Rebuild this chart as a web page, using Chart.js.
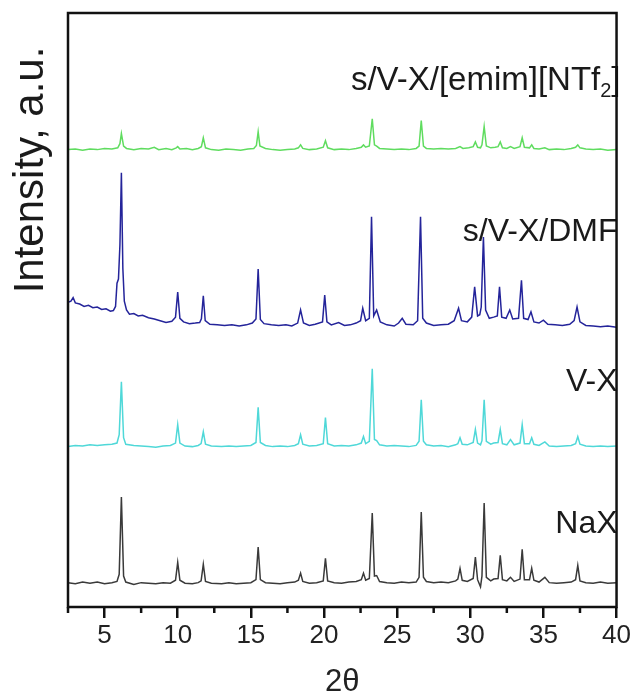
<!DOCTYPE html>
<html>
<head>
<meta charset="utf-8">
<script src="https://cdn.jsdelivr.net/npm/chart.js@4/dist/chart.umd.min.js"></script>
<style>
  html, body { margin: 0; padding: 0; background: #fff; }
  #wrap { width: 633px; height: 695px; }
</style>
</head>
<body>
<div id="wrap"><canvas id="xrd" width="633" height="695"></canvas></div>
<script>
// Powder XRD patterns, [2θ (deg), intensity (a.u.)] relative to each trace's own baseline
const naX = [[2.5,0.1],[3.0,-0.1],[3.5,0.2],[4.0,0.0],[4.5,0.2],[5.0,-0.1],[5.5,0.1],[5.85,0.3],[6.0,1.5],[6.15,14.5],[6.3,1.2],[6.45,0.2],[7.0,-0.2],[7.5,0.1],[8.0,0.0],[8.5,-0.1],[9.0,0.1],[9.5,0.0],[9.85,0.5],[10.0,3.5],[10.15,0.5],[10.5,0.0],[11.0,-0.1],[11.4,0.1],[11.6,0.4],[11.75,3.2],[11.9,0.3],[12.3,0.0],[13.0,-0.1],[13.5,0.1],[14.0,-0.1],[14.5,0.0],[15.0,0.1],[15.35,0.6],[15.5,6.1],[15.65,0.6],[16.0,0.1],[16.5,0.0],[17.0,-0.1],[17.5,0.1],[18.0,0.2],[18.25,0.5],[18.4,1.7],[18.55,0.3],[19.0,0.0],[19.5,0.1],[19.95,0.4],[20.1,4.2],[20.25,0.4],[20.7,0.1],[21.2,0.0],[21.7,0.2],[22.2,0.3],[22.55,0.6],[22.7,1.7],[22.85,0.5],[23.1,0.8],[23.3,11.8],[23.45,1.2],[23.6,1.3],[23.8,0.3],[24.3,0.1],[24.8,0.0],[25.3,0.2],[25.8,0.1],[26.3,0.2],[26.5,1.0],[26.65,12.0],[26.8,1.0],[27.0,0.3],[27.5,0.1],[28.0,0.2],[28.5,0.1],[29.0,0.4],[29.15,0.7],[29.3,2.5],[29.45,0.5],[29.8,0.3],[30.2,0.8],[30.35,4.4],[30.5,0.6],[30.7,-0.6],[30.8,1.2],[30.95,13.5],[31.1,1.0],[31.4,0.4],[31.6,0.7],[31.9,0.8],[32.05,4.7],[32.2,0.6],[32.5,0.4],[32.75,1.0],[33.0,0.3],[33.4,0.7],[33.55,5.7],[33.7,0.6],[34.05,0.6],[34.2,2.5],[34.35,0.5],[34.7,0.2],[35.1,1.0],[35.4,0.1],[35.9,0.0],[36.4,0.1],[36.9,0.2],[37.2,0.6],[37.35,3.0],[37.5,0.4],[37.9,0.1],[38.4,0.0],[38.9,0.2],[39.4,0.0],[40.0,0.1]];

const vX = [[2.5,0.0],[3.0,0.2],[3.5,0.1],[4.0,0.3],[4.5,0.2],[5.0,0.3],[5.5,0.4],[5.85,0.6],[6.0,2.0],[6.15,10.9],[6.3,1.5],[6.45,0.4],[7.0,0.2],[7.5,0.1],[8.0,0.0],[8.5,-0.1],[9.0,0.1],[9.5,0.2],[9.85,0.6],[10.0,3.7],[10.15,0.6],[10.5,0.1],[11.0,0.0],[11.4,0.2],[11.6,0.5],[11.75,2.5],[11.9,0.4],[12.3,0.1],[13.0,0.0],[13.5,0.1],[14.0,0.0],[14.5,0.1],[15.0,0.2],[15.35,0.7],[15.5,6.6],[15.65,0.7],[16.0,0.2],[16.5,0.0],[17.0,0.1],[17.5,0.0],[18.0,0.2],[18.25,0.5],[18.4,2.0],[18.55,0.4],[19.0,0.1],[19.5,0.2],[19.95,0.5],[20.1,4.9],[20.25,0.5],[20.7,0.1],[21.2,0.2],[21.7,0.1],[22.2,0.3],[22.55,0.6],[22.7,1.7],[22.85,0.5],[23.1,0.9],[23.3,13.1],[23.45,1.2],[23.6,1.0],[23.8,0.3],[24.3,0.1],[24.8,0.2],[25.3,0.1],[25.8,0.0],[26.3,0.2],[26.5,0.9],[26.65,7.9],[26.8,0.9],[27.0,0.3],[27.5,0.1],[28.0,0.2],[28.5,0.0],[29.0,0.3],[29.15,0.5],[29.3,1.5],[29.45,0.4],[29.8,0.3],[30.2,0.7],[30.35,2.9],[30.5,0.6],[30.7,0.3],[30.8,1.0],[30.95,7.9],[31.1,0.9],[31.4,0.4],[31.6,0.6],[31.9,0.7],[32.05,2.9],[32.2,0.5],[32.5,0.3],[32.75,1.2],[33.0,0.3],[33.4,0.6],[33.55,3.7],[33.7,0.5],[34.05,0.5],[34.2,1.5],[34.35,0.4],[34.7,0.2],[35.1,0.8],[35.4,0.1],[35.9,0.0],[36.4,0.1],[36.9,0.2],[37.2,0.5],[37.35,1.7],[37.5,0.4],[37.9,0.1],[38.4,0.0],[38.9,0.1],[39.4,0.0],[40.0,0.1]];

const sVXDmf = [[2.5,4.3],[2.7,4.5],[2.85,5.1],[3.0,4.2],[3.3,4.0],[3.6,3.6],[3.9,3.8],[4.2,3.4],[4.5,3.5],[4.8,3.1],[5.1,3.2],[5.4,2.8],[5.6,2.9],[5.75,3.6],[5.85,7.5],[5.95,8.2],[6.05,14.0],[6.15,26.1],[6.25,10.0],[6.35,4.5],[6.5,3.0],[6.7,2.3],[7.0,2.4],[7.3,2.0],[7.6,2.1],[8.0,1.7],[8.4,1.5],[8.8,1.2],[9.2,0.9],[9.6,1.1],[9.85,1.8],[10.0,6.0],[10.15,1.6],[10.4,1.0],[10.8,0.7],[11.2,0.8],[11.5,0.9],[11.62,1.5],[11.75,5.4],[11.88,1.2],[12.2,0.6],[12.7,0.5],[13.2,0.4],[13.7,0.5],[14.2,0.3],[14.7,0.5],[15.1,0.8],[15.35,1.5],[15.5,9.9],[15.65,1.4],[15.9,0.7],[16.4,0.5],[16.9,0.4],[17.4,0.5],[17.8,0.3],[18.2,0.8],[18.4,3.0],[18.6,0.8],[19.0,0.4],[19.4,0.6],[19.9,1.0],[20.05,5.5],[20.2,1.0],[20.5,0.5],[21.0,0.9],[21.4,0.4],[21.8,0.5],[22.2,0.8],[22.5,1.2],[22.65,3.3],[22.85,1.2],[23.1,1.6],[23.25,18.7],[23.4,2.0],[23.6,3.0],[23.85,1.0],[24.3,0.5],[24.8,0.3],[25.1,0.8],[25.35,1.6],[25.6,0.6],[26.1,0.5],[26.4,1.2],[26.6,18.7],[26.75,1.6],[27.0,0.8],[27.5,0.4],[28.0,0.5],[28.5,0.6],[28.9,1.2],[29.2,3.3],[29.4,1.2],[29.8,1.0],[30.1,1.8],[30.3,6.9],[30.5,2.0],[30.65,2.2],[30.75,3.5],[30.9,15.3],[31.05,3.0],[31.3,1.6],[31.6,1.8],[31.85,2.0],[32.0,6.9],[32.15,1.8],[32.45,1.6],[32.7,3.0],[32.9,1.5],[33.3,1.6],[33.5,8.0],[33.65,1.6],[33.95,1.4],[34.15,2.7],[34.35,1.0],[34.7,0.8],[35.0,1.3],[35.3,0.6],[35.8,0.5],[36.3,0.4],[36.8,0.6],[37.1,1.2],[37.3,3.5],[37.5,1.0],[37.9,0.4],[38.4,0.3],[38.9,0.2],[39.4,0.3],[40.0,0.1]];

const sVXEmim = [[2.5,0.0],[3.0,0.1],[3.5,-0.1],[4.0,0.1],[4.5,0.0],[5.0,0.2],[5.5,0.1],[5.9,0.3],[6.05,1.0],[6.15,2.7],[6.3,0.6],[6.5,0.2],[7.0,0.0],[7.5,0.2],[8.0,0.1],[8.4,0.4],[8.7,0.0],[9.2,0.2],[9.6,0.0],[9.9,0.3],[10.0,0.5],[10.15,0.1],[10.6,0.2],[11.0,0.0],[11.4,0.2],[11.62,0.5],[11.75,2.0],[11.9,0.3],[12.3,0.0],[12.8,-0.1],[13.3,0.1],[13.8,0.0],[14.3,-0.1],[14.8,0.1],[15.2,0.2],[15.38,0.7],[15.5,3.0],[15.62,0.6],[16.0,0.2],[16.5,0.0],[17.0,-0.1],[17.5,0.0],[18.0,0.1],[18.25,0.3],[18.4,0.8],[18.55,0.2],[19.0,0.0],[19.5,0.1],[19.95,0.4],[20.1,1.5],[20.25,0.3],[20.7,0.0],[21.2,0.1],[21.7,0.0],[22.2,0.2],[22.55,0.4],[22.7,0.8],[22.85,0.4],[23.1,0.6],[23.3,5.2],[23.45,0.8],[23.6,0.6],[23.8,0.2],[24.3,0.1],[24.8,0.0],[25.3,0.1],[25.8,0.0],[26.3,0.2],[26.5,0.6],[26.65,4.9],[26.8,0.6],[27.0,0.2],[27.5,0.1],[28.0,0.2],[28.5,0.1],[29.0,0.2],[29.3,0.5],[29.5,0.2],[29.9,0.3],[30.2,0.5],[30.35,1.3],[30.5,0.4],[30.7,0.3],[30.8,0.8],[30.95,3.9],[31.1,0.6],[31.4,0.3],[31.7,0.4],[31.9,0.5],[32.05,1.3],[32.2,0.3],[32.5,0.2],[32.75,0.5],[33.0,0.2],[33.4,0.5],[33.55,2.0],[33.7,0.4],[34.05,0.3],[34.2,0.8],[34.35,0.2],[34.7,0.1],[35.1,0.3],[35.4,0.0],[35.9,0.1],[36.4,0.0],[36.9,0.2],[37.2,0.4],[37.35,0.8],[37.5,0.3],[37.9,0.1],[38.4,0.0],[38.9,0.1],[39.4,-0.1],[40.0,0.0]];

// Sample names and vertical stacking offsets (bottom to top)
const sampleNames = ['NaX', 'V-X', 's/V-X/DMF', 's/V-X/[emim][NTf2]'];
const stackOffsets = [4, 27, 47, 77];
const patterns = [naX, vX, sVXDmf, sVXEmim];

// Axis ticks
const xTicks = [5, 10, 15, 20, 25, 30, 35, 40];
const xMinorTicks = [2.5, 7.5, 12.5, 17.5, 22.5, 27.5, 32.5, 37.5];

const traceColors = ['#3a3a3a', '#4fd8d8', '#24249a', '#5fdc5f'];
const FONT = '"Liberation Sans", Arial, Helvetica, sans-serif';

const datasets = patterns.map((pts, i) => ({
  label: sampleNames[i],
  data: pts.map(p => ({ x: p[0], y: p[1] + stackOffsets[i] })),
  borderColor: traceColors[i],
  borderWidth: 1.5,
  pointRadius: 0,
  tension: 0,
  fill: false
}));

// Frame, minor ticks, sample labels and y title
const decorations = {
  id: 'decorations',
  afterDatasetsDraw(chart) {
    const { ctx, chartArea: a, scales: { x, y } } = chart;
    ctx.save();
    ctx.fillStyle = '#1a1a1a';
    ctx.textBaseline = 'middle';
    ctx.textAlign = 'right';
    ctx.font = '32px ' + FONT;
    const labelYs = [14.0, 37.8, 63.1];
    const rx = a.right + 1;
    for (let i = 0; i < 3; i++) {
      ctx.fillText(sampleNames[i], rx, y.getPixelForValue(labelYs[i]));
    }
    // label with subscript: s/V-X/[emim][NTf₂]
    const ty = y.getPixelForValue(88.5);
    const big = '33px ' + FONT;
    const small = '20px ' + FONT;
    const head = 's/V-X/[emim][NTf';
    ctx.font = big;
    const wTail = ctx.measureText(']').width;
    ctx.font = small;
    const wSub = ctx.measureText('2').width;
    ctx.font = big;
    ctx.fillText(']', rx + 3, ty);
    ctx.font = small;
    ctx.fillText('2', rx + 3 - wTail, ty + 10);
    ctx.font = big;
    ctx.fillText(head, rx + 3 - wTail - wSub, ty);

    // frame
    ctx.strokeStyle = '#111';
    ctx.lineWidth = 2.5;
    ctx.strokeRect(a.left, a.top, a.right - a.left, a.bottom - a.top);

    // minor ticks
    xMinorTicks.forEach(v => {
      const px = x.getPixelForValue(v);
      ctx.beginPath();
      ctx.moveTo(px, a.bottom);
      ctx.lineTo(px, a.bottom + 6);
      ctx.stroke();
    });

    // y title
    ctx.translate(31, 170);
    ctx.rotate(-Math.PI / 2);
    ctx.textAlign = 'center';
    ctx.font = '42px ' + FONT;
    ctx.fillStyle = '#1a1a1a';
    ctx.fillText('Intensity, a.u.', 0, 0);
    ctx.restore();
  }
};

new Chart(document.getElementById('xrd'), {
  type: 'line',
  data: { datasets },
  options: {
    responsive: false,
    animation: false,
    events: [],
    layout: { padding: { top: 13, right: 16, left: 0, bottom: 0 } },
    plugins: { legend: { display: false }, tooltip: { enabled: false } },
    scales: {
      x: {
        type: 'linear',
        min: 2.5,
        max: 40,
        afterBuildTicks(scale) { scale.ticks = xTicks.map(v => ({ value: v })); },
        afterFit(scale) { scale.height = 88; },
        border: { display: false },
        grid: { drawOnChartArea: false, drawTicks: true, tickLength: 11, color: '#111', lineWidth: 2.5 },
        ticks: { color: '#222', font: { family: FONT, size: 26 }, padding: 2, maxRotation: 0, autoSkip: false },
        title: { display: true, text: '2θ', color: '#222', font: { family: FONT, size: 31 }, padding: { top: 0, bottom: -6 } }
      },
      y: {
        min: 0,
        max: 100,
        afterFit(scale) { scale.width = 68; },
        border: { display: false },
        grid: { display: false },
        ticks: { display: false }
      }
    }
  },
  plugins: [decorations]
});
</script>
</body>
</html>
